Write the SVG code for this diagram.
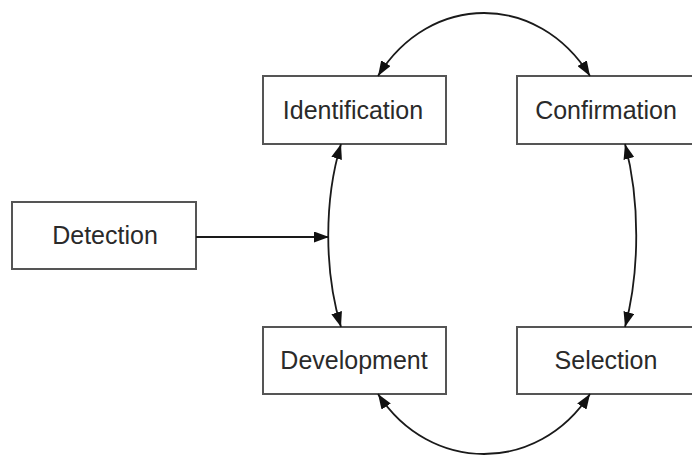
<svg xmlns="http://www.w3.org/2000/svg" width="692" height="456" viewBox="0 0 692 456">
<defs>
<marker id="ah" viewBox="0 0 15 11" refX="15" refY="5.5" markerWidth="15" markerHeight="11" markerUnits="userSpaceOnUse" orient="auto-start-reverse">
<path d="M0,0 L15,5.5 L0,11 Z" fill="#111"/>
</marker>
</defs>
<style>
.box{fill:#fff;stroke:#555;stroke-width:2}
.lbl{font-family:"Liberation Sans",Arial,sans-serif;font-size:25px;fill:#2a2a2a;text-anchor:middle}
.c{fill:none;stroke:#1a1a1a;stroke-width:1.8}
</style>
<rect width="692" height="456" fill="#fff"/>
<g id="detection"><rect class="box" x="12" y="202" width="184" height="67"/><text class="lbl" x="105" y="244">Detection</text></g>
<g id="identification"><rect class="box" x="263" y="76" width="183" height="68"/><text class="lbl" x="353" y="119">Identification</text></g>
<g id="confirmation"><rect class="box" x="517" y="76" width="186" height="68"/><text class="lbl" x="606" y="119">Confirmation</text></g>
<g id="development"><rect class="box" x="263" y="327" width="183" height="67"/><text class="lbl" x="354" y="369">Development</text></g>
<g id="selection"><rect class="box" x="517" y="327" width="186" height="67"/><text class="lbl" x="606" y="369">Selection</text></g>
<g id="connectors">
<path class="c" d="M196,237 L329,237" marker-end="url(#ah)"/>
<path class="c" d="M378,76 C430,-8 538,-8 590,76" marker-start="url(#ah)" marker-end="url(#ah)"/>
<path class="c" d="M378,394 C430,474 538,474 590,394" marker-start="url(#ah)" marker-end="url(#ah)"/>
<path class="c" d="M341,144 C324,200 324,271 341,327" marker-start="url(#ah)" marker-end="url(#ah)"/>
<path class="c" d="M625,144 C640,200 640,271 625,327" marker-start="url(#ah)" marker-end="url(#ah)"/>
</g>
</svg>
